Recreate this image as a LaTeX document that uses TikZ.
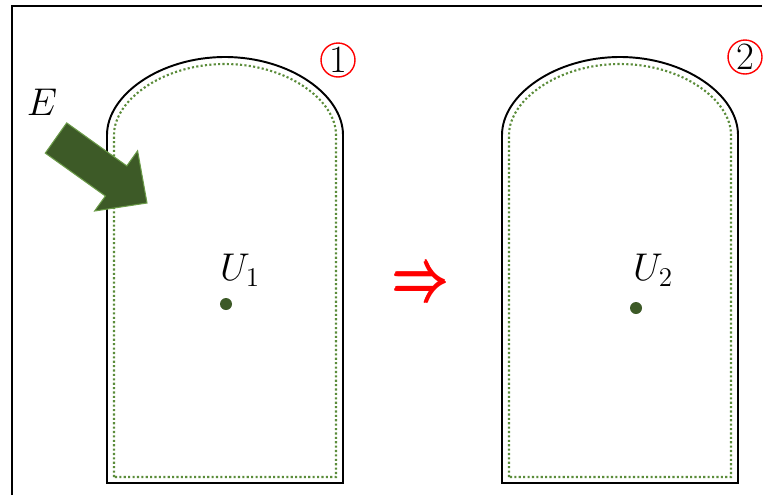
\RequirePackage{fix-cm}
\documentclass[tikz,border=0pt]{standalone}
\usepackage{amsmath}
\usepackage{graphicx}
\usepackage{tikz}
\usetikzlibrary{positioning}
\definecolor{darkleaf}{HTML}{3D5A27}
\definecolor{leafedge}{HTML}{6A9A48}
\definecolor{dotgreen}{HTML}{5B8C3A}
\begin{document}
\begin{tikzpicture}[x=0.02cm,y=-0.02cm,
 wall/.style={draw=black,line width=1.1pt},
 liner/.style={draw=dotgreen,line width=1.2pt,dash pattern=on 1.2pt off 1.3pt},
 dot/.style={circle,fill=darkleaf,inner sep=0pt,minimum size=0.24cm},
 lbl/.style={font=\fontsize{22}{24}\selectfont},
 num/.style={circle,draw=red,line width=0.8pt,inner sep=0pt,minimum size=0.68cm,font=\fontsize{22}{24}\selectfont}]
\useasboundingbox (0,0) rectangle (766,495);
\draw[line width=1.1pt] (12,495) -- (12,6) -- (762,6);
% vessel 1
\draw[wall] (107,483) -- (107,135) .. controls (107,95) and (160,57) .. (225,57)
 .. controls (290,57) and (343,95) .. (343,135) -- (343,483) -- cycle;
\draw[liner] (114,477) -- (114,135) .. controls (114,100) and (163,64) .. (225,64)
 .. controls (287,64) and (336,100) .. (336,135) -- (336,477) -- cycle;
% vessel 2
\draw[wall] (502,483) -- (502,135) .. controls (502,95) and (555,57) .. (620,57)
 .. controls (685,57) and (738,95) .. (738,135) -- (738,483) -- cycle;
\draw[liner] (509,477) -- (509,135) .. controls (509,100) and (558,64) .. (620,64)
 .. controls (682,64) and (731,100) .. (731,135) -- (731,477) -- cycle;
% energy input
\fill[darkleaf,draw=leafedge,line width=0.6pt] (66.7,122.9) -- (126.8,165.9) -- (137.6,150.8)
 -- (147,203) -- (94.6,211) -- (105.4,196) -- (45.3,153.1) -- cycle;
\node[lbl] (e) at (42,102) {$E$};
\node[num] (n1) at (338,60) {1};
\node[num] (n2) at (745,57) {2};
\node[dot] (d1) at (226,304) {};
\node[dot] (d2) at (636,308) {};
\node[lbl] (u1) at (240,270) {$U_1$};
\node[lbl] (u2) at (653,270) {$U_2$};
\node[text=red,font=\fontsize{32}{34}\selectfont] (impl) at (422,287) {\scalebox{1}[1.35]{$\pmb{\Rightarrow}$}};
\end{tikzpicture}
\end{document}
